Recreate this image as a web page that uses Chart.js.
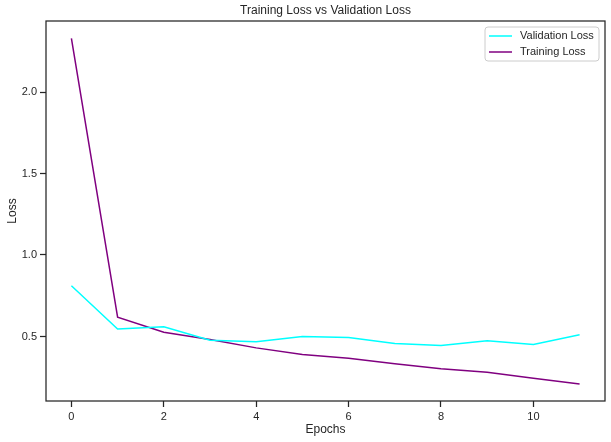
<!DOCTYPE html>
<html>
<head>
<meta charset="utf-8">
<script src="https://cdn.jsdelivr.net/npm/chart.js@4"></script>
<style>
  html, body { margin: 0; padding: 0; background: #fff; }
  #wrap { width: 611px; height: 442px; }
</style>
</head>
<body>
<div id="wrap"><canvas id="lossChart" width="611" height="442"></canvas></div>
<script>
const epochs = [0, 1, 2, 3, 4, 5, 6, 7, 8, 9, 10, 11];
const validationLoss = [0.811, 0.546, 0.559, 0.477, 0.467, 0.500, 0.494, 0.457, 0.445, 0.473, 0.451, 0.510];
const trainingLoss = [2.329, 0.618, 0.526, 0.482, 0.430, 0.390, 0.366, 0.333, 0.302, 0.280, 0.244, 0.209];
const xTicks = [0, 2, 4, 6, 8, 10];
const yTicks = [0.5, 1.0, 1.5, 2.0];

const textColor = '#262626';
const fontFamily = '"Liberation Sans", Arial, sans-serif';

function toPoints(values) {
    return values.map((v, i) => ({ x: epochs[i], y: v }));
}

// title, frame and legend drawn like matplotlib
const decorations = {
    id: 'decorations',
    afterDraw(chart) {
        const ctx = chart.ctx;
        const area = chart.chartArea;
        ctx.save();

        ctx.fillStyle = textColor;
        ctx.font = '12px ' + fontFamily;
        ctx.textAlign = 'center';
        ctx.textBaseline = 'middle';
        ctx.fillText('Training Loss vs Validation Loss', (area.left + area.right) / 2, 11);

        ctx.strokeStyle = textColor;
        ctx.lineWidth = 1.25;
        ctx.strokeRect(area.left, area.top, area.right - area.left, area.bottom - area.top);

        // legend
        const items = chart.data.datasets;
        const boxW = 114, boxH = 34;
        const bx = area.right - 6 - boxW, by = area.top + 6;
        ctx.beginPath();
        ctx.roundRect(bx, by, boxW, boxH, 3);
        ctx.fillStyle = 'rgba(255,255,255,0.8)';
        ctx.fill();
        ctx.strokeStyle = '#cccccc';
        ctx.lineWidth = 1;
        ctx.stroke();

        ctx.font = '11px ' + fontFamily;
        ctx.textAlign = 'left';
        items.forEach((ds, i) => {
            const y = by + 9 + i * 16;
            ctx.beginPath();
            ctx.strokeStyle = ds.borderColor;
            ctx.lineWidth = 1.5;
            ctx.moveTo(bx + 4, y);
            ctx.lineTo(bx + 27, y);
            ctx.stroke();
            ctx.fillStyle = textColor;
            ctx.fillText(ds.label, bx + 35, y);
        });
        ctx.restore();
    }
};

new Chart(document.getElementById('lossChart').getContext('2d'), {
    type: 'line',
    data: {
        datasets: [{
            label: 'Validation Loss',
            data: toPoints(validationLoss),
            borderColor: '#00ffff',
            borderWidth: 1.5,
            pointRadius: 0,
            tension: 0
        }, {
            label: 'Training Loss',
            data: toPoints(trainingLoss),
            borderColor: '#800080',
            borderWidth: 1.5,
            pointRadius: 0,
            tension: 0
        }]
    },
    options: {
        responsive: false,
        animation: false,
        devicePixelRatio: 1,
        layout: { padding: { left: 0, right: 6, top: 21, bottom: 0 } },
        plugins: {
            legend: { display: false },
            tooltip: { enabled: false }
        },
        scales: {
            x: {
                type: 'linear',
                min: -0.55,
                max: 11.55,
                afterFit(scale) { scale.height = 41; },
                afterBuildTicks(scale) { scale.ticks = xTicks.map(v => ({ value: v })); },
                grid: {
                    drawOnChartArea: false,
                    tickLength: 6,
                    tickColor: textColor,
                    tickWidth: 1.25
                },
                border: { display: false },
                ticks: {
                    color: textColor,
                    font: { family: fontFamily, size: 11 },
                    padding: 3,
                    maxRotation: 0
                },
                title: {
                    display: true,
                    text: 'Epochs',
                    color: textColor,
                    font: { family: fontFamily, size: 12 },
                    padding: { top: 0, bottom: 5 }
                }
            },
            y: {
                type: 'linear',
                min: 0.104,
                max: 2.436,
                afterFit(scale) { scale.width = 46; },
                afterBuildTicks(scale) { scale.ticks = yTicks.map(v => ({ value: v })); },
                grid: {
                    drawOnChartArea: false,
                    tickLength: 6,
                    tickColor: textColor,
                    tickWidth: 1.25
                },
                border: { display: false },
                ticks: {
                    color: textColor,
                    font: { family: fontFamily, size: 11 },
                    padding: 3,
                    callback: v => v.toFixed(1)
                },
                title: {
                    display: true,
                    text: 'Loss',
                    color: textColor,
                    font: { family: fontFamily, size: 12 },
                    padding: { top: 5, bottom: 4 }
                }
            }
        }
    },
    plugins: [decorations]
});
</script>
</body>
</html>
